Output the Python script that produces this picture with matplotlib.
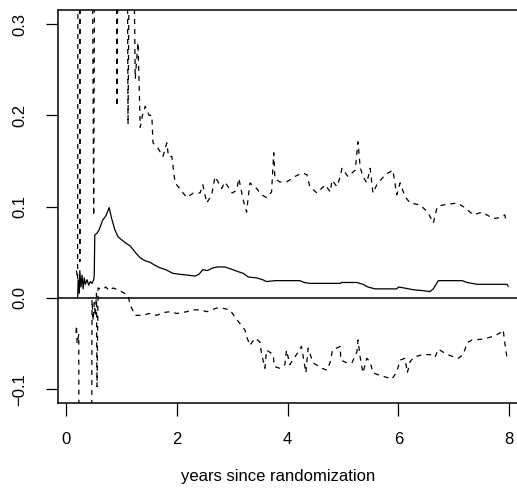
import matplotlib
matplotlib.use("Agg")
import matplotlib.pyplot as plt

plt.rcParams['font.family'] = ['Liberation Sans', 'DejaVu Sans']

# ==========================
# Data
# ==========================
est_x = [0.21, 0.22, 0.24, 0.25, 0.27, 0.29, 0.31, 0.33, 0.35, 0.38, 0.41, 0.44,
         0.47, 0.50, 0.51, 0.52, 0.56, 0.60, 0.66, 0.72, 0.78, 0.82, 0.88, 0.94,
         1.00, 1.08, 1.16, 1.25, 1.34, 1.42, 1.52, 1.60, 1.70, 1.80, 1.93, 2.05,
         2.20, 2.33, 2.40, 2.47, 2.55, 2.65, 2.74, 2.87, 3.01, 3.10, 3.20, 3.29,
         3.44, 3.55, 3.62, 3.77, 4.22, 4.30, 4.40, 4.95, 4.97, 5.25, 5.36, 5.45,
         5.58, 5.97, 6.00, 6.10, 6.27, 6.45, 6.57, 6.63, 6.72, 7.15, 7.24, 7.42,
         7.96, 7.98]
est_y = [0.000, 0.020, 0.005, 0.030, 0.012, 0.025, 0.010, 0.022, 0.015, 0.020, 0.014, 0.018,
         0.016, 0.020, 0.025, 0.069, 0.071, 0.075, 0.085, 0.090, 0.099, 0.088, 0.075, 0.067,
         0.064, 0.060, 0.057, 0.050, 0.044, 0.041, 0.039, 0.036, 0.033, 0.031, 0.027, 0.026,
         0.025, 0.024, 0.026, 0.031, 0.030, 0.033, 0.034, 0.034, 0.031, 0.029, 0.027, 0.023,
         0.022, 0.020, 0.018, 0.019, 0.019, 0.017, 0.016, 0.016, 0.017, 0.017, 0.015, 0.012,
         0.010, 0.010, 0.012, 0.011, 0.009, 0.008, 0.007, 0.010, 0.019, 0.019, 0.017, 0.015,
         0.015, 0.013]

upper_x = [0.19, 0.21, 0.22, 0.24, 0.25, 0.26, 0.46, 0.50, 0.53, 0.90, 0.92, 0.95,
           1.10, 1.12, 1.15, 1.22, 1.25, 1.30, 1.34, 1.38, 1.43, 1.50, 1.55, 1.57,
           1.65, 1.75, 1.82, 1.85, 1.91, 1.97, 2.05, 2.18, 2.30, 2.42, 2.47, 2.54,
           2.63, 2.69, 2.81, 2.87, 3.00, 3.08, 3.12, 3.20, 3.26, 3.29, 3.32, 3.44,
           3.53, 3.62, 3.71, 3.75, 3.77, 3.86, 3.98, 4.13, 4.26, 4.35, 4.40, 4.53,
           4.68, 4.77, 4.80, 4.89, 4.95, 4.98, 5.09, 5.22, 5.27, 5.31, 5.36, 5.43,
           5.49, 5.54, 5.61, 5.76, 5.90, 5.97, 6.03, 6.12, 6.21, 6.39, 6.53, 6.63,
           6.70, 6.81, 7.06, 7.20, 7.35, 7.51, 7.71, 7.83, 7.92, 7.94]
upper_y = [0.030, 0.020, 0.600, 0.600, 0.040, 0.600, 0.600, 0.090, 0.600, 0.600, 0.210, 0.500,
           0.500, 0.190, 0.450, 0.400, 0.240, 0.280, 0.187, 0.200, 0.210, 0.200, 0.200, 0.170,
           0.165, 0.155, 0.170, 0.155, 0.155, 0.126, 0.120, 0.110, 0.115, 0.115, 0.124, 0.104,
           0.113, 0.133, 0.120, 0.127, 0.115, 0.118, 0.131, 0.107, 0.094, 0.111, 0.126, 0.120,
           0.113, 0.110, 0.116, 0.159, 0.131, 0.127, 0.127, 0.133, 0.137, 0.135, 0.122, 0.115,
           0.124, 0.116, 0.129, 0.122, 0.133, 0.142, 0.133, 0.140, 0.171, 0.143, 0.133, 0.126,
           0.142, 0.115, 0.124, 0.135, 0.140, 0.113, 0.126, 0.111, 0.104, 0.102, 0.094, 0.082,
           0.100, 0.102, 0.104, 0.099, 0.091, 0.094, 0.087, 0.088, 0.091, 0.085]

lower_x = [0.18, 0.19, 0.20, 0.23, 0.25, 0.45, 0.47, 0.49, 0.51, 0.53, 0.55, 0.56,
           0.58, 0.65, 0.72, 0.78, 0.85, 0.97, 1.12, 1.16, 1.25, 1.39, 1.50, 1.64,
           1.75, 1.88, 2.00, 2.18, 2.30, 2.42, 2.54, 2.72, 2.81, 2.96, 3.05, 3.14,
           3.23, 3.26, 3.32, 3.41, 3.50, 3.53, 3.59, 3.62, 3.74, 3.76, 3.86, 3.95,
           3.98, 4.04, 4.16, 4.25, 4.33, 4.37, 4.46, 4.62, 4.71, 4.77, 4.81, 4.95,
           4.96, 5.07, 5.16, 5.25, 5.27, 5.31, 5.36, 5.43, 5.49, 5.54, 5.63, 5.79,
           5.88, 5.97, 6.03, 6.12, 6.16, 6.21, 6.27, 6.43, 6.57, 6.66, 6.72, 6.88,
           7.08, 7.17, 7.24, 7.33, 7.53, 7.65, 7.78, 7.87, 7.89, 7.92, 7.96]
lower_y = [-0.038, -0.030, -0.050, -0.040, -0.500, -0.500, -0.002, -0.025, -0.005, -0.020, 0.005, -0.097,
           0.011, 0.009, 0.012, 0.008, 0.011, 0.008, 0.003, -0.008, -0.019, -0.019, -0.017, -0.019,
           -0.016, -0.015, -0.017, -0.015, -0.013, -0.013, -0.015, -0.011, -0.011, -0.013, -0.021, -0.028,
           -0.035, -0.042, -0.052, -0.044, -0.048, -0.061, -0.077, -0.057, -0.062, -0.075, -0.077, -0.073,
           -0.057, -0.073, -0.062, -0.053, -0.082, -0.055, -0.071, -0.077, -0.079, -0.070, -0.057, -0.053,
           -0.068, -0.071, -0.071, -0.059, -0.046, -0.065, -0.082, -0.066, -0.070, -0.082, -0.084, -0.087,
           -0.089, -0.081, -0.068, -0.066, -0.082, -0.070, -0.065, -0.062, -0.062, -0.065, -0.056, -0.062,
           -0.066, -0.062, -0.049, -0.046, -0.045, -0.043, -0.040, -0.037, -0.035, -0.049, -0.066]

x_ticks = [0, 2, 4, 6, 8]
y_ticks = [-0.1, 0.0, 0.1, 0.2, 0.3]
y_tick_labels = ["\u22120.1", "0.0", "0.1", "0.2", "0.3"]

# ==========================
# Plot
# ==========================
fig = plt.figure(figsize=(5.17, 5.04), dpi=100)
ax = fig.add_axes([58/517, 101/504, 459/517, 393/504])

lw = 0.9
ax.plot(est_x, est_y, color='black', lw=lw)
ax.plot(upper_x, upper_y, color='black', lw=lw, linestyle=(0, (4, 4)))
ax.plot(lower_x, lower_y, color='black', lw=lw, linestyle=(0, (4, 4)))
ax.axhline(0, color='black', lw=1.1)

ax.set_xlim(-0.144, 8.14)
ax.set_ylim(-0.115, 0.3154)

ax.spines['right'].set_visible(False)
for s in ['left', 'bottom', 'top']:
    ax.spines[s].set_linewidth(1.1)

ax.set_xticks(x_ticks)
ax.set_xticklabels([str(t) for t in x_ticks])
ax.set_yticks(y_ticks)
ax.set_yticklabels(y_tick_labels, rotation=90, va='center')

ax.tick_params(axis='both', direction='out', length=9, width=0.9, labelsize=12)
ax.tick_params(axis='x', pad=12)
ax.tick_params(axis='y', pad=13)

fig.text(278/517, 1 - 477/504, "years since randomization",
         ha='center', va='center', fontsize=12)

plt.savefig("out.png", dpi=100)
